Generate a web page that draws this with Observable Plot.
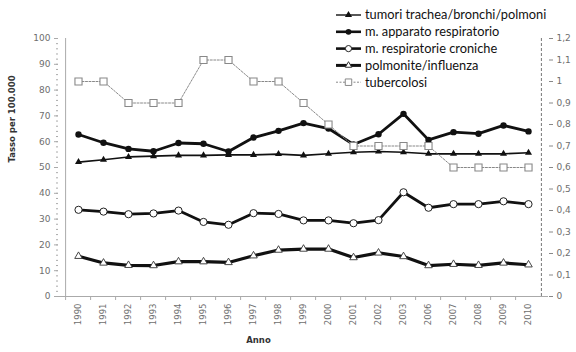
<!DOCTYPE html>
<html>
<head>
<meta charset="utf-8">
<script src="https://cdn.jsdelivr.net/npm/d3@7"></script>
<script src="https://cdn.jsdelivr.net/npm/@observablehq/plot@0.6"></script>
<style>
  html, body { margin: 0; padding: 0; background: white; }
  #wrap { position: relative; width: 576px; height: 352px; }
  #legend { position: absolute; left: 0; top: 0; pointer-events: none; }
</style>
</head>
<body>
<div id="wrap"></div>
<script>
// ---- data ----
const years = ["1990","1991","1992","1993","1994","1995","1996","1997","1998","1999","2000","2001","2002","2003","2006","2007","2008","2009","2010"];
const tumori = [52.1,53.0,54.1,54.4,54.7,54.7,54.9,54.9,55.2,54.7,55.3,55.9,56.2,55.9,55.3,55.3,55.3,55.3,55.7];
const apparato = [62.8,59.6,57.2,56.3,59.5,59.2,56.2,61.6,64.2,67.2,65.1,58.9,62.9,70.8,60.7,63.7,63.1,66.3,64.0];
const croniche = [33.6,32.9,31.9,32.2,33.3,28.9,27.8,32.3,32.0,29.5,29.5,28.4,29.6,40.4,34.4,35.8,35.8,36.9,35.8];
const polmonite = [15.6,13.0,12.1,12.0,13.5,13.5,13.2,15.8,18.0,18.4,18.4,15.1,16.9,15.5,12.0,12.5,12.1,13.0,12.3];
const tubercolosi = [1.0,1.0,0.9,0.9,0.9,1.1,1.1,1.0,1.0,0.9,0.8,0.7,0.7,0.7,0.7,0.6,0.6,0.6,0.6];
const seriesNames = ["tumori trachea/bronchi/polmoni","m. apparato respiratorio","m. respiratorie croniche","polmonite/influenza","tubercolosi"];
const leftTicks = [0,10,20,30,40,50,60,70,80,90,100];
const rightTicks = [0,0.1,0.2,0.3,0.4,0.5,0.6,0.7,0.8,0.9,1,1.1,1.2];

// ---- layout ----
const W = 576, H = 352;
const ml = 58, mr = 28, mt = 38, mb = 56;
const step = (W - ml - mr) / years.length;
const right = d3.scaleLinear([0, 1.2], [0, 100]);
const fmtComma = d => d3.format("~g")(d).replace(".", ",");
const tb = tubercolosi.map(v => right(v));

const chart = Plot.plot({
  width: W, height: H,
  marginLeft: ml, marginRight: mr, marginTop: mt, marginBottom: mb,
  style: {fontFamily: "'DejaVu Sans', Verdana, sans-serif", fontSize: "9px", color: "#6e6e6e", background: "white"},
  x: {type: "point", domain: years, padding: 0.5, axis: null},
  y: {domain: [0, 100], axis: null},
  marks: [
    // axes
    Plot.axisY(d3.range(0, 101, 2), {tickSize: 2, tickFormat: () => "", stroke: "#aaa", label: null}),
    Plot.axisY(leftTicks, {tickSize: 4, tickPadding: 4, stroke: "#aaa", fill: "#6e6e6e", fontSize: 9, label: null}),
    Plot.ruleX([years[0]], {dx: -step / 2, stroke: "#aaa"}),
    Plot.axisY(rightTicks, {anchor: "right", y: d => right(d), tickFormat: fmtComma, tickSize: 4, tickPadding: 4, stroke: "#888", fill: "#6e6e6e", fontSize: 9, label: null}),
    Plot.ruleX([years[years.length - 1]], {dx: step / 2, stroke: "#777", strokeDasharray: "3,2"}),
    Plot.ruleY([0], {stroke: "#aaa"}),
    Plot.axisX(years, {tickSize: 4, tickFormat: () => "", dx: -step / 2, stroke: "#aaa", label: null}),
    Plot.axisX(years, {tickSize: 0, tickRotate: -90, tickPadding: 7, fontSize: 8.5, fill: "#6e6e6e", label: null}),
    Plot.text(["Anno"], {frameAnchor: "bottom", dx: -45, dy: 46, fontWeight: "bold", fontSize: 8.5, fill: "#333"}),
    Plot.text(["Tasso per 100.000"], {frameAnchor: "left", rotate: -90, dx: -46, dy: -5, fontWeight: "bold", fontSize: 8.5, fill: "#333"}),

    // tumori trachea/bronchi/polmoni
    Plot.line(years, {x: years, y: tumori, stroke: "#111", strokeWidth: 1.6}),
    Plot.dot(years, {x: years, y: tumori, symbol: "triangle", r: 2.6, fill: "#111", stroke: "none"}),
    // m. apparato respiratorio
    Plot.line(years, {x: years, y: apparato, stroke: "#111", strokeWidth: 2.8}),
    Plot.dot(years, {x: years, y: apparato, symbol: "circle", r: 3.2, fill: "#111", stroke: "none"}),
    // m. respiratorie croniche
    Plot.line(years, {x: years, y: croniche, stroke: "#111", strokeWidth: 2.8}),
    Plot.dot(years, {x: years, y: croniche, symbol: "circle", r: 3.6, fill: "white", stroke: "#222", strokeWidth: 1}),
    // polmonite/influenza
    Plot.line(years, {x: years, y: polmonite, stroke: "#111", strokeWidth: 3.2}),
    Plot.dot(years, {x: years, y: polmonite, symbol: "triangle", r: 2.8, fill: "white", stroke: "#333", strokeWidth: 0.9}),
    // tubercolosi (right axis)
    Plot.line(years, {x: years, y: tb, stroke: "#888", strokeWidth: 1, strokeDasharray: "2,1.5"}),
    Plot.dot(years, {x: years, y: tb, symbol: "square", r: 4, fill: "white", stroke: "#888", strokeWidth: 1.1})
  ]
});
document.getElementById("wrap").appendChild(chart);

// ---- legend (overlay) ----
const leg = d3.select("#wrap").append("svg")
  .attr("id", "legend").attr("width", W).attr("height", 100);
const styles = [
  {sw: 1.4, sym: d3.symbolTriangle, size: 22, fill: "#111", stroke: "none", color: "#111", dash: null},
  {sw: 2.6, sym: d3.symbolCircle, size: 26, fill: "#111", stroke: "none", color: "#111", dash: null},
  {sw: 2.6, sym: d3.symbolCircle, size: 30, fill: "white", stroke: "#222", color: "#111", dash: null},
  {sw: 3.0, sym: d3.symbolTriangle, size: 18, fill: "white", stroke: "#333", color: "#111", dash: null},
  {sw: 1.0, sym: d3.symbolSquare, size: 42, fill: "white", stroke: "#888", color: "#888", dash: "2,1.5"}
];
const lx0 = 336, lx1 = 361, ly0 = 15, ldy = 16.8;
seriesNames.forEach((name, i) => {
  const s = styles[i];
  const y = ly0 + i * ldy;
  const g = leg.append("g");
  g.append("line").attr("x1", lx0).attr("x2", lx1).attr("y1", y).attr("y2", y)
    .attr("stroke", s.color).attr("stroke-width", s.sw).attr("stroke-dasharray", s.dash);
  g.append("path").attr("d", d3.symbol(s.sym, s.size)())
    .attr("transform", `translate(${(lx0 + lx1) / 2},${y})`)
    .attr("fill", s.fill).attr("stroke", s.stroke).attr("stroke-width", 1);
  g.append("text").attr("x", lx1 + 4).attr("y", y).attr("dy", "0.35em")
    .attr("font-family", "Lato, 'Open Sans', sans-serif").attr("font-size", 12.8)
    .attr("fill", "#111").text(name);
});
</script>
</body>
</html>
